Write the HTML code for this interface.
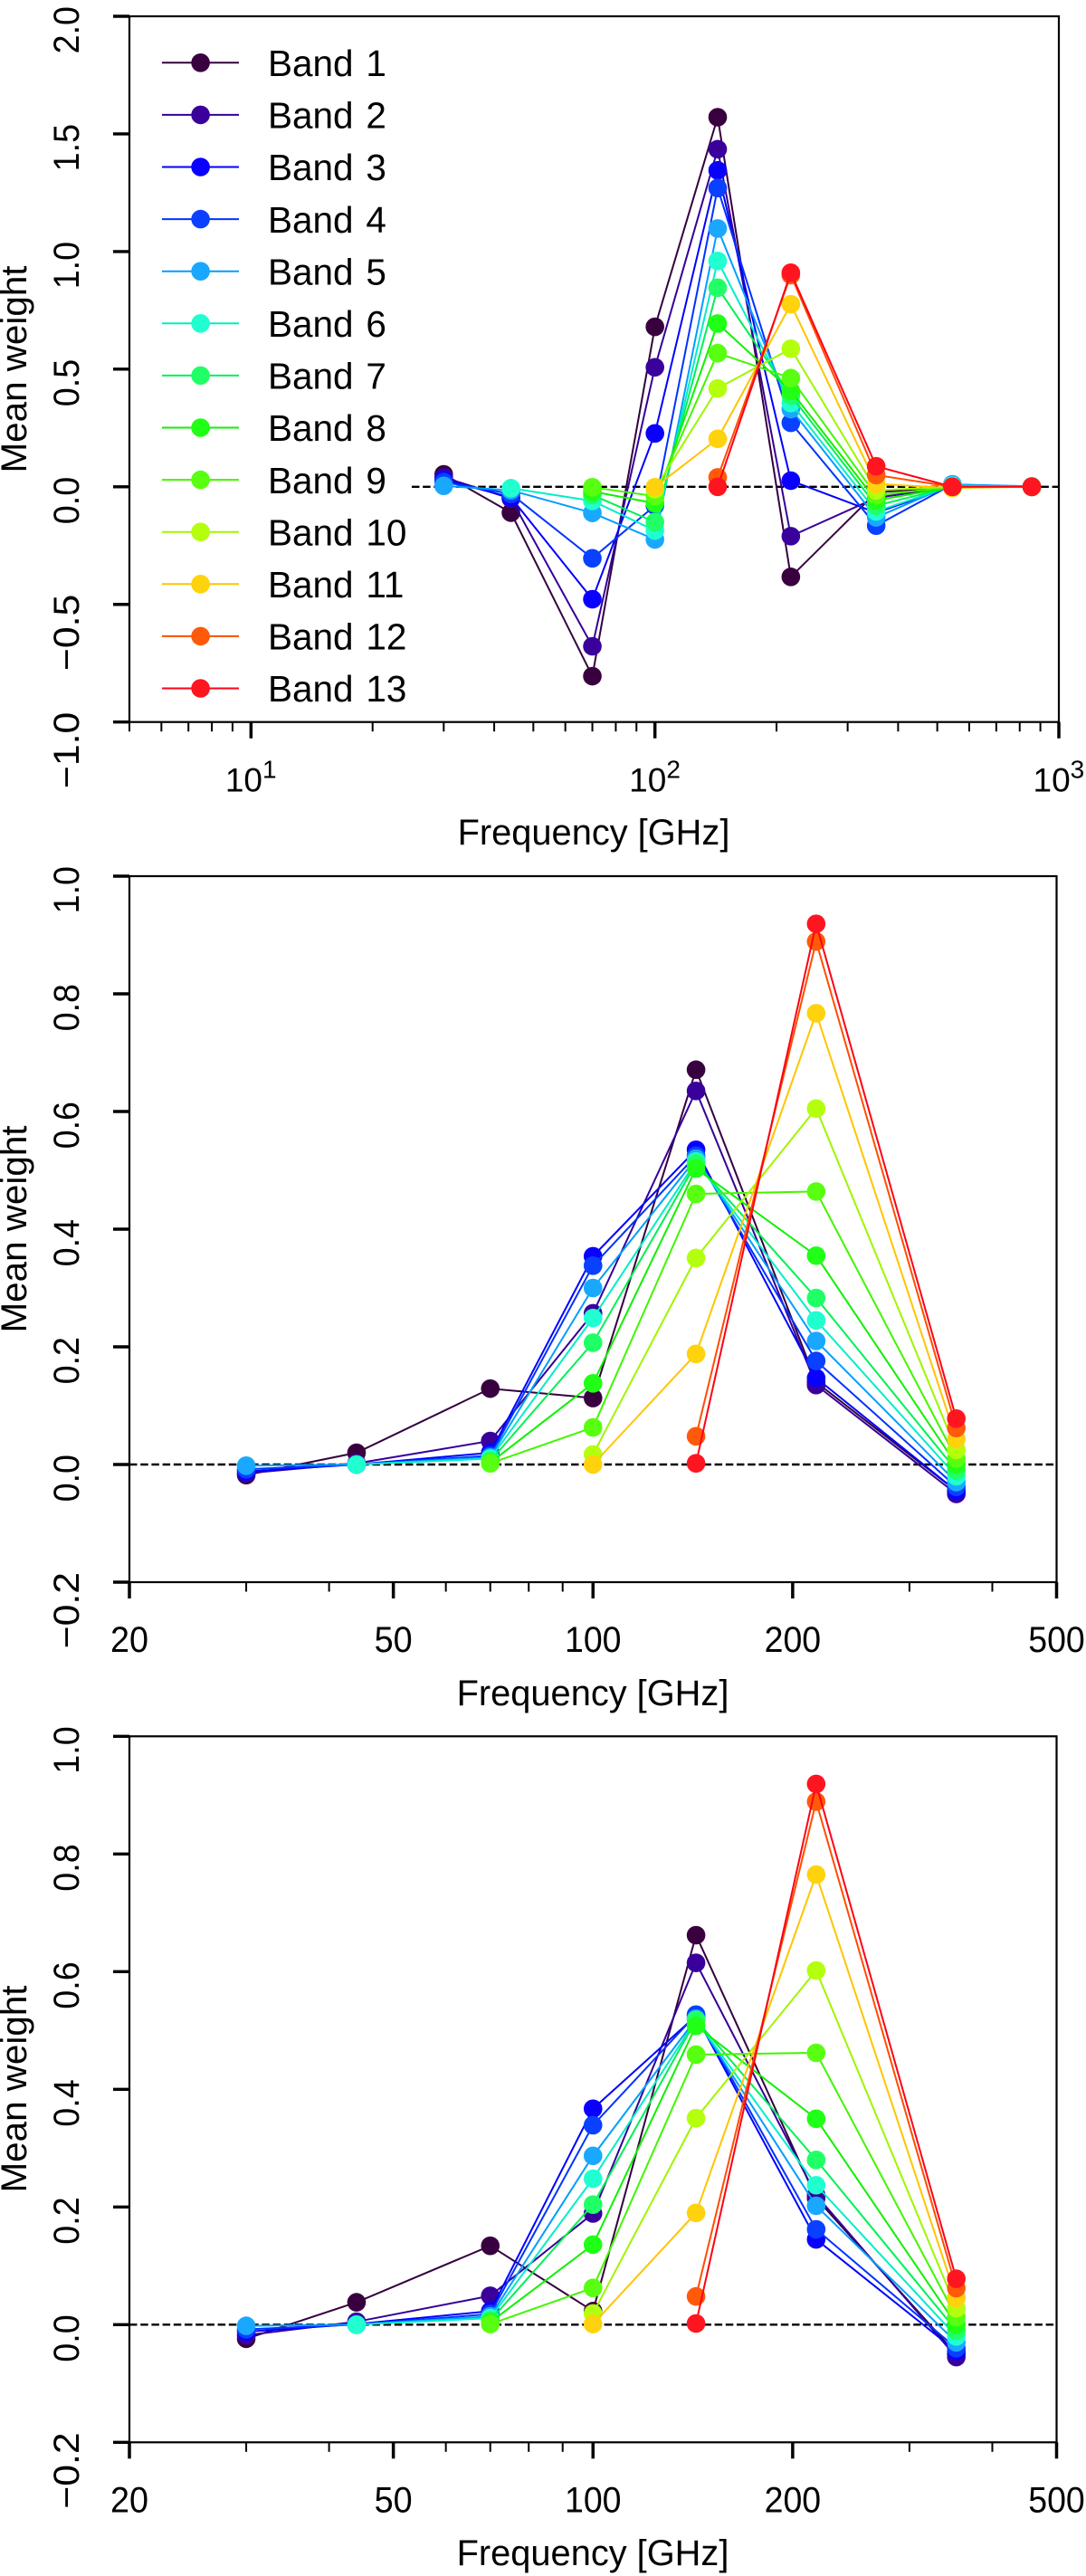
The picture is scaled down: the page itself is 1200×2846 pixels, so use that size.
<!DOCTYPE html>
<html lang="en">
<head>
<meta charset="utf-8">
<title>Mean weight per band vs frequency</title>
<style>
  html, body { margin: 0; padding: 0; background: #fff; }
  svg { display: block; }
  text { font-family: "Liberation Sans", "DejaVu Sans", sans-serif; fill: #000; }
</style>
</head>
<body>
<svg id="figure" xmlns="http://www.w3.org/2000/svg" width="1200" height="2846" viewBox="0 0 1200 2846">
  <rect x="0" y="0" width="1200" height="2846" fill="#fff"/>

  <g id="panel-top">
    <g id="panel-top-marks"></g>
    <text font-size="40" text-anchor="middle" transform="translate(29,408) rotate(-90)" textLength="229" lengthAdjust="spacingAndGlyphs">Mean weight</text>
    <text font-size="39.8" text-anchor="middle" x="656" y="933">Frequency [GHz]</text>
    <g style="word-spacing:2.5px">
      <g transform="translate(0,69.3)"><line x1="179" x2="264" y1="0" y2="0" stroke="#35003f" stroke-width="2"/><circle cx="221.6" cy="0" r="10.3" fill="#39003f"/><text x="296" y="14.7" font-size="40.5">Band 1</text></g>
      <g transform="translate(0,126.9)"><line x1="179" x2="264" y1="0" y2="0" stroke="#350098" stroke-width="2"/><circle cx="221.6" cy="0" r="10.3" fill="#3a009c"/><text x="296" y="14.7" font-size="40.5">Band 2</text></g>
      <g transform="translate(0,184.5)"><line x1="179" x2="264" y1="0" y2="0" stroke="#0000ff" stroke-width="2"/><circle cx="221.6" cy="0" r="10.3" fill="#0a00ff"/><text x="296" y="14.7" font-size="40.5">Band 3</text></g>
      <g transform="translate(0,242.1)"><line x1="179" x2="264" y1="0" y2="0" stroke="#0033ff" stroke-width="2"/><circle cx="221.6" cy="0" r="10.3" fill="#0a40ff"/><text x="296" y="14.7" font-size="40.5">Band 4</text></g>
      <g transform="translate(0,299.7)"><line x1="179" x2="264" y1="0" y2="0" stroke="#009eff" stroke-width="2"/><circle cx="221.6" cy="0" r="10.3" fill="#1aa8ff"/><text x="296" y="14.7" font-size="40.5">Band 5</text></g>
      <g transform="translate(0,357.3)"><line x1="179" x2="264" y1="0" y2="0" stroke="#00eec8" stroke-width="2"/><circle cx="221.6" cy="0" r="10.3" fill="#1fffd0"/><text x="296" y="14.7" font-size="40.5">Band 6</text></g>
      <g transform="translate(0,414.9)"><line x1="179" x2="264" y1="0" y2="0" stroke="#00f055" stroke-width="2"/><circle cx="221.6" cy="0" r="10.3" fill="#20ff66"/><text x="296" y="14.7" font-size="40.5">Band 7</text></g>
      <g transform="translate(0,472.5)"><line x1="179" x2="264" y1="0" y2="0" stroke="#10f000" stroke-width="2"/><circle cx="221.6" cy="0" r="10.3" fill="#20ff16"/><text x="296" y="14.7" font-size="40.5">Band 8</text></g>
      <g transform="translate(0,530.1)"><line x1="179" x2="264" y1="0" y2="0" stroke="#44f500" stroke-width="2"/><circle cx="221.6" cy="0" r="10.3" fill="#58ff10"/><text x="296" y="14.7" font-size="40.5">Band 9</text></g>
      <g transform="translate(0,587.7)"><line x1="179" x2="264" y1="0" y2="0" stroke="#a0f500" stroke-width="2"/><circle cx="221.6" cy="0" r="10.3" fill="#b4ff0e"/><text x="296" y="14.7" font-size="40.5">Band 10</text></g>
      <g transform="translate(0,645.3)"><line x1="179" x2="264" y1="0" y2="0" stroke="#ffc400" stroke-width="2"/><circle cx="221.6" cy="0" r="10.3" fill="#ffd20e"/><text x="296" y="14.7" font-size="40.5">Band 11</text></g>
      <g transform="translate(0,702.9)"><line x1="179" x2="264" y1="0" y2="0" stroke="#ff4d00" stroke-width="2"/><circle cx="221.6" cy="0" r="10.3" fill="#ff5a0a"/><text x="296" y="14.7" font-size="40.5">Band 12</text></g>
      <g transform="translate(0,760.5)"><line x1="179" x2="264" y1="0" y2="0" stroke="#ff0014" stroke-width="2"/><circle cx="221.6" cy="0" r="10.3" fill="#ff1520"/><text x="296" y="14.7" font-size="40.5">Band 13</text></g>
    </g>
  </g>

  <g id="panel-middle">
    <g id="panel-middle-marks"></g>
    <text font-size="40" text-anchor="middle" transform="translate(29,1358) rotate(-90)" textLength="229" lengthAdjust="spacingAndGlyphs">Mean weight</text>
    <text font-size="39.8" text-anchor="middle" x="655" y="1884">Frequency [GHz]</text>
  </g>

  <g id="panel-bottom">
    <g id="panel-bottom-marks"></g>
    <text font-size="40" text-anchor="middle" transform="translate(29,2308) rotate(-90)" textLength="229" lengthAdjust="spacingAndGlyphs">Mean weight</text>
    <text font-size="39.8" text-anchor="middle" x="655" y="2834">Frequency [GHz]</text>
  </g>
</svg>

<script>
// ---- channel frequencies (GHz) ----
const topFrequencies = [30, 44, 70, 100, 143, 217, 353, 545, 857];
const lowerFrequencies = [30, 44, 70, 100, 143, 217, 353];

// ---- top panel values, one array per band ----
const topBand1  = [0.053, -0.11, -0.805, 0.68, 1.571, -0.383, -0.024, 0, 0];
const topBand2  = [0.04, -0.05, -0.678, 0.508, 1.435, -0.21, -0.047, 0, 0];
const topBand3  = [0.03, -0.045, -0.478, 0.227, 1.345, 0.026, -0.11, 0.002, 0];
const topBand4  = [0.02, -0.03, -0.304, -0.08, 1.27, 0.272, -0.165, 0.01, 0];
const topBand5  = [0.004, -0.015, -0.111, -0.224, 1.098, 0.33, -0.13, 0.01, 0.002];
const topBand6  = [null, -0.006, -0.06, -0.186, 0.96, 0.356, -0.105, 0.005, 0];
const topBand7  = [null, null, -0.035, -0.15, 0.846, 0.388, -0.08, 0, 0];
const topBand8  = [null, null, -0.02, -0.07, 0.694, 0.408, -0.058, 0, 0];
const topBand9  = [null, null, -0.002, -0.04, 0.568, 0.462, -0.036, 0, 0];
const topBand10 = [null, null, null, -0.01, 0.418, 0.587, -0.015, 0, 0];
const topBand11 = [null, null, null, -0.002, 0.204, 0.776, 0.012, -0.005, 0];
const topBand12 = [null, null, null, null, 0.04, 0.9, 0.05, 0, 0];
const topBand13 = [null, null, null, null, 0, 0.91, 0.087, 0, 0];

// ---- middle panel values ----
const midBand1  = [-0.018, 0.02, 0.129, 0.113, 0.671, 0.14, -0.045];
const midBand2  = [-0.015, 0.002, 0.04, 0.257, 0.635, 0.135, -0.05];
const midBand3  = [-0.012, 0, 0.02, 0.354, 0.535, 0.147, -0.045];
const midBand4  = [-0.008, 0, 0.015, 0.338, 0.525, 0.176, -0.038];
const midBand5  = [-0.002, 0, 0.012, 0.3, 0.52, 0.21, -0.03];
const midBand6  = [null, 0, 0.01, 0.249, 0.515, 0.245, -0.02];
const midBand7  = [null, null, 0.006, 0.207, 0.512, 0.283, -0.01];
const midBand8  = [null, null, 0.003, 0.138, 0.503, 0.355, 0];
const midBand9  = [null, null, 0.002, 0.063, 0.46, 0.464, 0.01];
const midBand10 = [null, null, null, 0.017, 0.351, 0.605, 0.025];
const midBand11 = [null, null, null, 0, 0.188, 0.767, 0.043];
const midBand12 = [null, null, null, null, 0.048, 0.889, 0.062];
const midBand13 = [null, null, null, null, 0.002, 0.919, 0.078];

// ---- bottom panel values ----
const botBand1  = [-0.024, 0.038, 0.134, 0.023, 0.662, 0.215, -0.05];
const botBand2  = [-0.018, 0.005, 0.049, 0.189, 0.615, 0.22, -0.055];
const botBand3  = [-0.012, 0.001, 0.023, 0.367, 0.525, 0.145, -0.045];
const botBand4  = [-0.008, 0, 0.018, 0.339, 0.527, 0.162, -0.04];
const botBand5  = [-0.002, 0, 0.014, 0.287, 0.52, 0.202, -0.03];
const botBand6  = [null, 0, 0.011, 0.248, 0.518, 0.237, -0.02];
const botBand7  = [null, null, 0.007, 0.204, 0.518, 0.28, -0.01];
const botBand8  = [null, null, 0.004, 0.136, 0.508, 0.35, 0];
const botBand9  = [null, null, 0.001, 0.0625, 0.459, 0.462, 0.013];
const botBand10 = [null, null, null, 0.019, 0.351, 0.602, 0.028];
const botBand11 = [null, null, null, 0.001, 0.19, 0.765, 0.045];
const botBand12 = [null, null, null, null, 0.048, 0.889, 0.062];
const botBand13 = [null, null, null, null, 0.002, 0.919, 0.078];

// ---- tick values and labels ----
const topYTicks = [-1, -0.5, 0, 0.5, 1, 1.5, 2];
const topYLabels = ['\u22121.0', '\u22120.5', '0.0', '0.5', '1.0', '1.5', '2.0'];
const topXMajor = [10, 100, 1000];
const topXExponents = ['1', '2', '3'];
const topXMinor = [5, 6, 7, 8, 9, 20, 30, 40, 50, 60, 70, 80, 90, 200, 300, 400, 500, 600, 700, 800, 900];
const lowerYTicks = [-0.2, 0, 0.2, 0.4, 0.6, 0.8, 1];
const lowerYLabels = ['\u22120.2', '0.0', '0.2', '0.4', '0.6', '0.8', '1.0'];
const lowerXMajor = [20, 50, 100, 200, 500];
const lowerXLabels = ['20', '50', '100', '200', '500'];
const lowerXMinor = [30, 40, 60, 70, 80, 90, 300, 400];

// ---- band styling ----
const lineColors = ['#35003f', '#350098', '#0000ff', '#0033ff', '#009eff', '#00eec8', '#00f055', '#10f000', '#44f500', '#a0f500', '#ffc400', '#ff4d00', '#ff0014'];
const markerColors = ['#39003f', '#3a009c', '#0a00ff', '#0a40ff', '#1aa8ff', '#1fffd0', '#20ff66', '#20ff16', '#58ff10', '#b4ff0e', '#ffd20e', '#ff5a0a', '#ff1520'];

const topBands = [topBand1, topBand2, topBand3, topBand4, topBand5, topBand6, topBand7, topBand8, topBand9, topBand10, topBand11, topBand12, topBand13];
const midBands = [midBand1, midBand2, midBand3, midBand4, midBand5, midBand6, midBand7, midBand8, midBand9, midBand10, midBand11, midBand12, midBand13];
const botBands = [botBand1, botBand2, botBand3, botBand4, botBand5, botBand6, botBand7, botBand8, botBand9, botBand10, botBand11, botBand12, botBand13];

const NS = 'http://www.w3.org/2000/svg';

function make(tag, attrs, parent) {
  const node = document.createElementNS(NS, tag);
  for (const key in attrs) node.setAttribute(key, attrs[key]);
  parent.appendChild(node);
  return node;
}

// Width a label would have in the original sans-serif face.
function labelWidth(str) {
  let w = 0;
  for (const ch of str) {
    if (ch === '.') w += 11.4;
    else if (ch === '\u2212') w += 32;
    else w += 20.5;
  }
  return w;
}

function drawPanel(opts) {
  const root = document.getElementById(opts.rootId);
  const prefix = opts.prefix;
  const left = opts.left, right = opts.right, top = opts.top, bottom = opts.bottom;
  const logMin = Math.log10(opts.xMin), logMax = Math.log10(opts.xMax);
  const xScale = function (f) { return left + (Math.log10(f) - logMin) / (logMax - logMin) * (right - left); };
  const yScale = function (v) { return bottom - (v - opts.yMin) / (opts.yMax - opts.yMin) * (bottom - top); };

  // zero reference line
  const zero = make('line', { x1: xScale(opts.dashFrom), x2: right, y1: yScale(0), y2: yScale(0), stroke: '#000', 'stroke-width': 2.4, 'stroke-dasharray': '8.5 3.7' }, root);
  
  

  // series
  opts.bands.forEach(function (values, b) {
    const group = make('g', {}, root);
    
    
    const pts = [];
    values.forEach(function (v, i) {
      if (v !== null) pts.push([xScale(opts.frequencies[i]), yScale(v)]);
    });
    const line = make('polyline', { points: pts.map(function (p) { return p[0].toFixed(2) + ',' + p[1].toFixed(2); }).join(' '), fill: 'none', stroke: lineColors[b], 'stroke-width': 2, 'stroke-linejoin': 'miter' }, group);
    
    
    pts.forEach(function (p, k) {
      const dot = make('circle', { cx: p[0].toFixed(2), cy: p[1].toFixed(2), r: 10.3, fill: markerColors[b] }, group);
      
      
    });
  });

  // frame
  const frame = make('rect', { x: left, y: top, width: right - left, height: bottom - top, fill: 'none', stroke: '#000', 'stroke-width': 2.2 }, root);
  
  

  // y ticks
  opts.yTicks.forEach(function (v, i) {
    const y = yScale(v);
    const tick = make('line', { x1: left - 18, x2: left, y1: y, y2: y, stroke: '#000', 'stroke-width': 3.4 }, root);
    
    
    const label = make('text', { 'font-size': 40, 'text-anchor': 'end', textLength: labelWidth(opts.yLabels[i]), lengthAdjust: 'spacingAndGlyphs', transform: 'translate(87,' + (y - 11) + ') rotate(-90)' }, root);
    
    
    label.textContent = opts.yLabels[i];
  });

  // x minor ticks
  opts.xMinor.forEach(function (f) {
    const x = xScale(f);
    const tick = make('line', { x1: x, x2: x, y1: bottom, y2: bottom + 10.5, stroke: '#000', 'stroke-width': 2 }, root);
    
    
  });

  // x major ticks
  opts.xMajor.forEach(function (f, i) {
    const x = xScale(f);
    const tick = make('line', { x1: x, x2: x, y1: bottom, y2: bottom + 18, stroke: '#000', 'stroke-width': 3.5 }, root);
    
    
    if (opts.xExponents) {
      const label = make('text', { x: x - 28.5, y: bottom + 77, 'font-size': 37 }, root);
      
      
      label.textContent = '10';
      const sup = make('tspan', { dy: -15, 'font-size': 28 }, label);
      sup.textContent = opts.xExponents[i];
    } else {
      const str = opts.xLabels[i];
      const label = make('text', { x: x, y: bottom + 77, 'font-size': 40, 'text-anchor': 'middle', textLength: labelWidth(str) + 1, lengthAdjust: 'spacingAndGlyphs' }, root);
      
      
      label.textContent = str;
    }
  });
}

drawPanel({
  rootId: 'panel-top-marks', prefix: 'top',
  left: 143, right: 1170, top: 18, bottom: 797.7,
  xMin: 5, xMax: 1000, yMin: -1, yMax: 2, dashFrom: 25,
  frequencies: topFrequencies, bands: topBands,
  yTicks: topYTicks, yLabels: topYLabels,
  xMajor: topXMajor, xExponents: topXExponents, xMinor: topXMinor
});

drawPanel({
  rootId: 'panel-middle-marks', prefix: 'middle',
  left: 143, right: 1167.5, top: 968, bottom: 1748,
  xMin: 20, xMax: 500, yMin: -0.2, yMax: 1, dashFrom: 20,
  frequencies: lowerFrequencies, bands: midBands,
  yTicks: lowerYTicks, yLabels: lowerYLabels,
  xMajor: lowerXMajor, xLabels: lowerXLabels, xMinor: lowerXMinor
});

drawPanel({
  rootId: 'panel-bottom-marks', prefix: 'bottom',
  left: 143, right: 1167.5, top: 1918.3, bottom: 2698.3,
  xMin: 20, xMax: 500, yMin: -0.2, yMax: 1, dashFrom: 20,
  frequencies: lowerFrequencies, bands: botBands,
  yTicks: lowerYTicks, yLabels: lowerYLabels,
  xMajor: lowerXMajor, xLabels: lowerXLabels, xMinor: lowerXMinor
});
</script>
</body>
</html>
